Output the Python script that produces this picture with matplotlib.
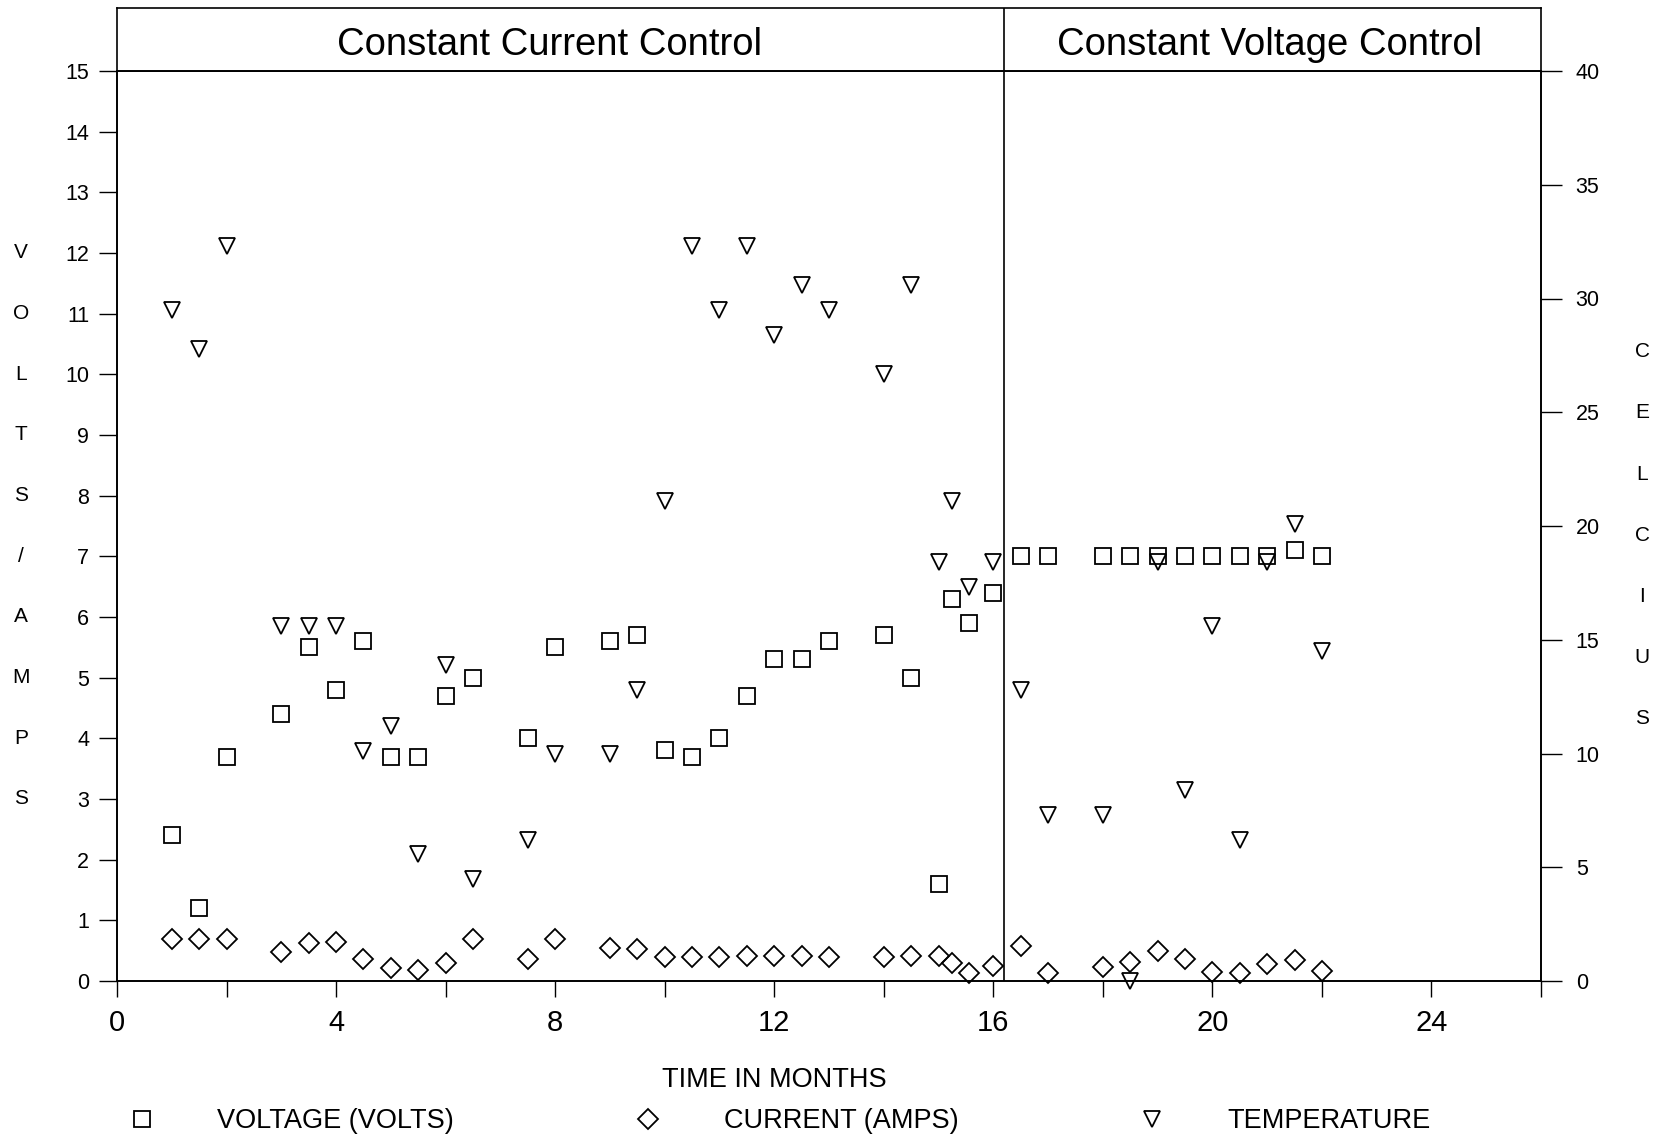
import matplotlib
matplotlib.use('Agg')
import matplotlib.pyplot as plt
from matplotlib import font_manager, transforms
from matplotlib.ticker import MultipleLocator

# Monthly readings (months since start of test)
months = [1, 1.5, 2, 3, 3.5, 4, 4.5, 5, 5.5, 6,
          6.5, 7.5, 8, 9, 9.5, 10, 10.5, 11, 11.5, 12,
          12.5, 13, 14, 14.5, 15, 15.25, 15.55, 16,
          16.5, 17, 18, 18.5, 19, 19.5, 20, 20.5, 21, 21.5, 22]

voltage = [2.4, 1.2, 3.7, 4.4, 5.5, 4.8, 5.6, 3.7, 3.7, 4.7,
           5.0, 4.0, 5.5, 5.6, 5.7, 3.8, 3.7, 4.0, 4.7, 5.3,
           5.3, 5.6, 5.7, 5.0, 1.6, 6.3, 5.9, 6.4,
           7.0, 7.0, 7.0, 7.0, 7.0, 7.0, 7.0, 7.0, 7.0, 7.1, 7.0]

current = [0.70, 0.70, 0.70, 0.47, 0.62, 0.65, 0.37, 0.22, 0.18, 0.29,
           0.70, 0.37, 0.70, 0.55, 0.53, 0.40, 0.40, 0.40, 0.41, 0.41,
           0.42, 0.40, 0.40, 0.41, 0.42, 0.30, 0.14, 0.24,
           0.57, 0.14, 0.23, 0.32, 0.50, 0.36, 0.15, 0.13, 0.28, 0.34, 0.17]

temperature = [29.5, 27.8, 32.3, 15.6, 15.6, 15.6, 10.1, 11.2, 5.6, 13.9,
               4.5, 6.2, 10.0, 10.0, 12.8, 21.1, 32.3, 29.5, 32.3, 28.4,
               30.6, 29.5, 26.7, 30.6, 18.4, 21.1, 17.3, 18.4,
               12.8, 7.3, 7.3, 0.0, 18.4, 8.4, 15.6, 6.2, 18.4, 20.1, 14.5]

switch_month = 16.2
phase_labels = ['Constant Current Control', 'Constant Voltage Control']
legend_labels = ['VOLTAGE (VOLTS)', 'CURRENT (AMPS)', 'TEMPERATURE']
left_letters = list('VOLTS/AMPS')
right_letters = list('CELCIUS')

installed = {f.name for f in font_manager.fontManager.ttflist}
REGULAR = 'Liberation Sans' if 'Liberation Sans' in installed else 'DejaVu Sans'
plt.rcParams['font.family'] = [REGULAR, 'DejaVu Sans']

W, H = 1659, 1139
fig = plt.figure(figsize=(W / 100, H / 100), dpi=100)


def fx(px):
    return px / W


def fy(px):
    return 1 - px / H


L, R, T, B = 117, 1541, 71, 981
HDR_TOP = 8
ax = fig.add_axes([fx(L), fy(B), fx(R - L), (B - T) / H])
hdr = fig.add_axes([fx(L), fy(T), fx(R - L), (T - HDR_TOP) / H])

LW = 1.2
for a in (ax, hdr):
    for s in a.spines.values():
        s.set_linewidth(LW)

# header strip with the two control phases
hdr.set_xlim(0, 26)
hdr.set_ylim(0, 1)
hdr.set_xticks([])
hdr.set_yticks([])
hdr.axvline(switch_month, color='k', lw=LW)
hdr.text(7.9, 0.41, phase_labels[0], ha='center', va='center', fontsize=27.5)
hdr.text(21.04, 0.41, phase_labels[1], ha='center', va='center', fontsize=27.5)

ax.set_xlim(0, 26)
ax.set_ylim(0, 15)
ax.axvline(switch_month, color='k', lw=LW)

ax.xaxis.set_major_locator(MultipleLocator(4))
ax.xaxis.set_minor_locator(MultipleLocator(2))
ax.xaxis.set_major_formatter(lambda v, p: f'{v:.0f}' if v <= 24 else '')
ax.tick_params(axis='x', which='both', direction='out', length=11.5, width=1.0)
ax.tick_params(axis='x', which='major', pad=9, labelsize=21)

ax.yaxis.set_major_locator(MultipleLocator(1))
ax.tick_params(axis='y', direction='out', length=13, width=1.0, pad=7, labelsize=15.5)

ax2 = ax.twinx()
ax2.set_ylim(0, 40)
ax2.yaxis.set_major_locator(MultipleLocator(5))
ax2.tick_params(axis='y', direction='out', length=15, width=1.0, pad=10, labelsize=15.5)
for s in ax2.spines.values():
    s.set_linewidth(LW)

mk = dict(ls='none', mfc='none', mec='k', mew=1.3, clip_on=False)
h_v, = ax.plot(months, voltage, marker='s', ms=12, **mk)
h_c, = ax.plot(months, current, marker='D', ms=10.4, **mk)
h_t, = ax2.plot(months, temperature, marker='v', ms=11.5, **mk)

# stacked axis titles
left_tr = transforms.blended_transform_factory(fig.transFigure, ax.transData)
for i, ch in enumerate(left_letters):
    ax.text(fx(21), 12 - i, ch, transform=left_tr, ha='center', va='center',
            fontsize=15, clip_on=False)
for i, ch in enumerate(right_letters):
    ax.text(fx(1642), 10.37 - i * 1.007, ch, transform=left_tr, ha='center',
            va='center', fontsize=15, clip_on=False)

ax.text(12, -(1080 - B) / (B - T), 'TIME IN MONTHS', transform=ax.get_xaxis_transform(),
        ha='center', va='center', fontsize=19.5)

fig.legend([h_v, h_c, h_t], legend_labels, loc='center left',
           bbox_to_anchor=(fx(128), fy(1121)), ncol=3, frameon=False,
           prop={'size': 19.5}, numpoints=1,
           handlelength=1.0, handletextpad=2.3, columnspacing=6.65,
           borderpad=0, borderaxespad=0)

fig.savefig('out.png', dpi=100)
